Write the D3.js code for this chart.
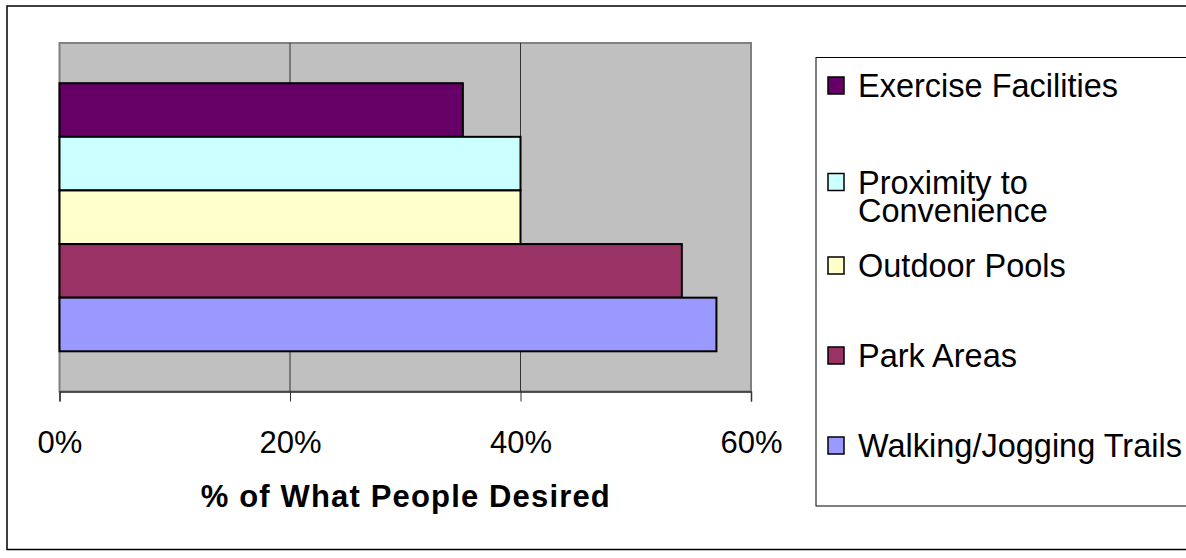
<!DOCTYPE html>
<html>
<head>
<meta charset="utf-8">
<script src="https://cdn.jsdelivr.net/npm/d3@7"></script>
<style>
  body { margin: 0; background: #fff; }
  text { font-family: "Liberation Sans", Arial, sans-serif; }
</style>
</head>
<body>
<div id="chart"></div>
<script>
// data (top bar first)
var series = ["Exercise Facilities", "Proximity to Convenience", "Outdoor Pools", "Park Areas", "Walking/Jogging Trails"];
var values = [0.35, 0.40, 0.40, 0.54, 0.57];
var colors = ["#660066", "#ccffff", "#ffffcc", "#993366", "#9999ff"];
var legendLines = [["Exercise Facilities"], ["Proximity to", "Convenience"], ["Outdoor Pools"], ["Park Areas"], ["Walking/Jogging Trails"]];
var xTicks = [0, 0.2, 0.4, 0.6];
var xTitle = "% of What People Desired";

(function() {
    var width = 1186;
    var height = 558;

    var svg = d3.select( "#chart" )
        .append( "svg" )
        .attr( "width", width )
        .attr( "height", height );

    // outer frame
    svg.append( "rect" )
        .attr( "x", 7 ).attr( "y", 6 )
        .attr( "width", 1200 ).attr( "height", 543.5 )
        .attr( "fill", "#fff" )
        .attr( "stroke", "#000" )
        .attr( "stroke-width", 1.5 );

    var plot = { left: 59.5, top: 43, right: 751, bottom: 391.5 };

    var x = d3.scaleLinear()
        .domain( [0, 0.6] )
        .range( [plot.left, plot.right] );

    var y = d3.scaleBand()
        .domain( series )
        .range( [plot.top, plot.bottom] )
        .paddingInner( 0 )
        .paddingOuter( 0.75 );

    // plot background
    svg.append( "rect" )
        .attr( "x", plot.left ).attr( "y", plot.top )
        .attr( "width", plot.right - plot.left )
        .attr( "height", plot.bottom - plot.top )
        .attr( "fill", "#c0c0c0" )
        .attr( "stroke", "#808080" )
        .attr( "stroke-width", 2 );

    // gridlines
    svg.append( "g" )
        .selectAll( "line" )
        .data( xTicks.slice( 1, -1 ) )
        .enter()
        .append( "line" )
        .attr( "x1", function(d) { return x(d); } )
        .attr( "x2", function(d) { return x(d); } )
        .attr( "y1", plot.top )
        .attr( "y2", plot.bottom )
        .attr( "stroke", "#333" )
        .attr( "stroke-width", 1 );

    // bars
    svg.append( "g" )
        .selectAll( "rect" )
        .data( series )
        .enter()
        .append( "rect" )
        .attr( "x", x(0) )
        .attr( "y", function(d) { return y(d); } )
        .attr( "width", function(d, i) { return x(values[i]) - x(0); } )
        .attr( "height", y.bandwidth() )
        .attr( "fill", function(d, i) { return colors[i]; } )
        .attr( "stroke", "#000" )
        .attr( "stroke-width", 2 );

    // x axis
    var xAxis = d3.axisBottom( x )
        .tickValues( xTicks )
        .tickFormat( d3.format( ".0%" ) )
        .tickSize( 10 )
        .tickPadding( 29 );

    var ax = svg.append( "g" )
        .attr( "transform", "translate(0," + plot.bottom + ")" )
        .call( xAxis );
    ax.select( ".domain" ).attr( "stroke", "#333" ).attr( "stroke-width", 1.5 );
    ax.selectAll( ".tick line" ).attr( "stroke", "#333" );
    ax.selectAll( ".tick text" )
        .attr( "font-family", "Liberation Sans, Arial, sans-serif" )
        .attr( "font-size", 31 )
        .attr( "fill", "#000" );

    // axis title
    svg.append( "text" )
        .attr( "x", (plot.left + plot.right) / 2 )
        .attr( "y", 507 )
        .attr( "text-anchor", "middle" )
        .attr( "font-size", 31 )
        .attr( "font-weight", "bold" )
        .attr( "textLength", 409 )
        .attr( "lengthAdjust", "spacing" )
        .text( xTitle );

    // legend
    var lg = svg.append( "g" );
    lg.append( "rect" )
        .attr( "x", 816 ).attr( "y", 57.5 )
        .attr( "width", 400 ).attr( "height", 448.5 )
        .attr( "fill", "#fff" )
        .attr( "stroke", "#000" )
        .attr( "stroke-width", 1 );

    var ly = d3.scalePoint()
        .domain( series )
        .range( [85.5, 445.5] );

    var item = lg.selectAll( "g.item" )
        .data( series )
        .enter()
        .append( "g" )
        .attr( "class", "item" )
        .attr( "transform", function(d, i) {
            var off = legendLines[i].length > 1 ? 6.5 : 0;
            return "translate(828," + (ly(d) + off) + ")";
        } );

    item.append( "rect" )
        .attr( "x", 0 ).attr( "y", -8.5 )
        .attr( "width", 16 ).attr( "height", 17 )
        .attr( "fill", function(d, i) { return colors[i]; } )
        .attr( "stroke", "#000" )
        .attr( "stroke-width", 1.5 );

    item.each( function(d, i) {
        var t = d3.select( this ).append( "text" )
            .attr( "x", 30 )
            .attr( "y", 11.5 )
            .attr( "font-size", 32.5 )
            .attr( "fill", "#000" );
        legendLines[i].forEach( function(line, j) {
            t.append( "tspan" )
                .attr( "x", 30 )
                .attr( "dy", j === 0 ? 0 : 28.5 )
                .text( line );
        } );
    } );
})();
</script>
</body>
</html>
